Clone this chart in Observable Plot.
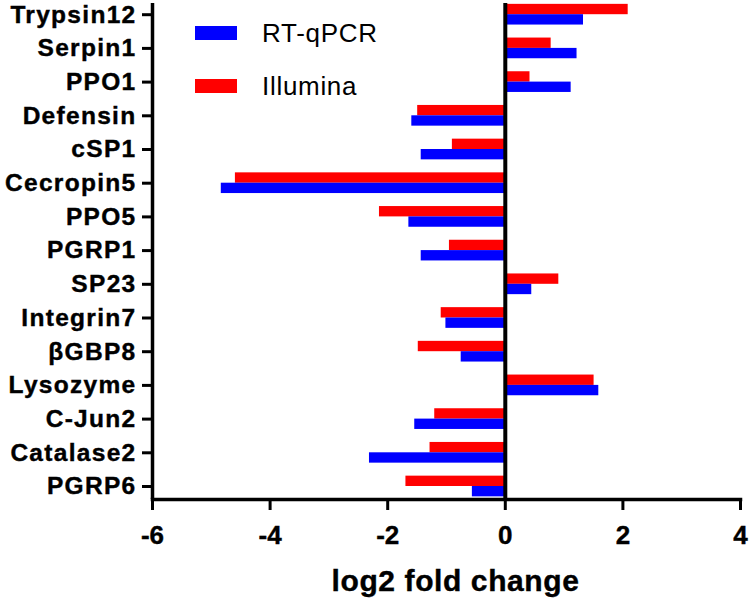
<!DOCTYPE html>
<html>
<head>
<meta charset="utf-8">
<script src="https://cdn.jsdelivr.net/npm/d3@7"></script>
<script src="https://cdn.jsdelivr.net/npm/@observablehq/plot@0.6"></script>
<style>
  html, body { margin: 0; padding: 0; background: #fff; }
  #wrap { position: relative; width: 751px; height: 603px; font-family: "Liberation Sans", Arial, sans-serif; }
  #legend { position: absolute; left: 195px; top: 21px; }
  .item { display: flex; align-items: center; height: 24px; margin-bottom: 29px; }
  .sw { width: 42px; height: 14px; margin-right: 25px; }
  .lab { font-size: 26px; letter-spacing: 0.7px; color: #000; }
  g[aria-label="y-axis tick label"] text { letter-spacing: 1.3px; stroke: #000; stroke-width: 0.4px; }
  g[aria-label="x-axis tick label"] text { stroke: #000; stroke-width: 0.4px; }
  g[aria-label="text"] text { letter-spacing: 0.6px; stroke: #000; stroke-width: 0.4px; }
</style>
</head>
<body>
<div id="wrap"></div>
<script>
const genes = ["Trypsin12","Serpin1","PPO1","Defensin","cSP1","Cecropin5","PPO5","PGRP1","SP23","Integrin7","βGBP8","Lysozyme","C-Jun2","Catalase2","PGRP6"];
const rtqpcr   = [1.33, 1.22, 1.12, -1.59, -1.43, -4.83, -1.64, -1.43, 0.45, -1.01, -0.75, 1.59, -1.54, -2.31, -0.56];
const illumina = [2.09, 0.78, 0.42, -1.49, -0.90, -4.59, -2.14, -0.95, 0.91, -1.09, -1.48, 1.51, -1.20, -1.28, -1.69];
const seriesNames = ["RT-qPCR", "Illumina"];
const seriesColors = ["#0000ff", "#ff0000"];
const xTicks = [-6, -4, -2, 0, 2, 4];
const xLabel = "log2 fold change";

const rows = genes.flatMap((g, i) => [
  {gene: g, series: "RT-qPCR", value: rtqpcr[i]},
  {gene: g, series: "Illumina", value: illumina[i]}
]);

const plot = Plot.plot({
  width: 751,
  height: 603,
  marginLeft: 152,
  marginRight: 11,
  marginTop: 3,
  marginBottom: 104,
  style: {fontFamily: "'Liberation Sans', Arial, sans-serif", background: "white", color: "black"},
  x: {domain: [-6, 4]},
  y: {domain: genes, range: [-2.65, 502.85], padding: 0, round: false},
  marks: [
    Plot.barX(rows.filter(d => d.series === "Illumina"), {x: "value", y: "gene", fill: seriesColors[1], insetTop: 6.5, insetBottom: 16.85}),
    Plot.barX(rows.filter(d => d.series === "RT-qPCR"), {x: "value", y: "gene", fill: seriesColors[0], insetTop: 16.85, insetBottom: 6.5}),
    Plot.ruleX([0], {stroke: "black", strokeWidth: 4}),
    Plot.ruleX([-6], {stroke: "black", strokeWidth: 3.5}),
    Plot.frame({anchor: "bottom", stroke: "black", strokeWidth: 3.5}),
    Plot.axisY({tickSize: 10, tickPadding: 6, fontSize: 24.5, fontWeight: "bold", strokeWidth: 3, label: null}),
    Plot.axisX({ticks: xTicks, tickFormat: d => String(d), tickSize: 11, tickPadding: 15, fontSize: 26, fontWeight: "bold", strokeWidth: 3, label: null}),
    Plot.text([xLabel], {frameAnchor: "bottom", text: d => d, dy: 91, dx: 9, fontSize: 30, fontWeight: "bold", fill: "black"})
  ]
});

const wrap = document.getElementById("wrap");
wrap.appendChild(plot);

const legend = document.createElement("div");
legend.id = "legend";
seriesNames.forEach((name, i) => {
  const item = document.createElement("div");
  item.className = "item";
  const sw = document.createElement("div");
  sw.className = "sw";
  sw.style.background = seriesColors[i];
  const lab = document.createElement("span");
  lab.className = "lab";
  lab.textContent = name;
  item.appendChild(sw);
  item.appendChild(lab);
  legend.appendChild(item);
});
wrap.appendChild(legend);
</script>
</body>
</html>
